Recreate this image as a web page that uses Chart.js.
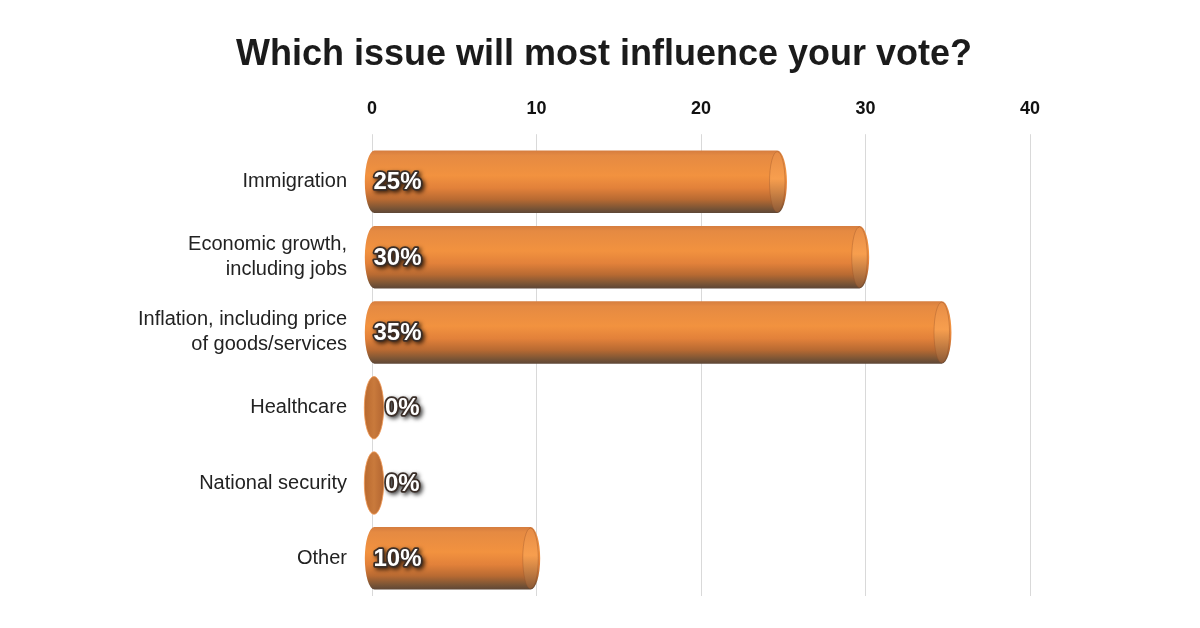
<!DOCTYPE html>
<html>
<head>
<meta charset="utf-8">
<script src="https://cdn.jsdelivr.net/npm/chart.js@4"></script>
<style>
  html, body { margin: 0; padding: 0; background: #fff; }
  #wrap { width: 1200px; height: 628px; }
</style>
</head>
<body>
<div id="wrap"><canvas id="voteChart" width="1200" height="628"></canvas></div>
<script>
const issues = [
    'Immigration',
    ['Economic growth,', 'including jobs'],
    ['Inflation, including price', 'of goods/services'],
    'Healthcare',
    'National security',
    'Other'
];
const shares = [25, 30, 35, 0, 0, 10];
const axisTicks = [0, 10, 20, 30, 40];

const SANS = '"Liberation Sans", Arial, sans-serif';

// draws the bars as orange cylinders, using the bar elements laid out by chart.js
const cylinderBars = {
    id: 'cylinderBars',
    afterDatasetsDraw(chart) {
        const ctx = chart.ctx;
        const meta = chart.getDatasetMeta(0);
        meta.data.forEach((bar, i) => {
            const p = bar.getProps(['x', 'y', 'base', 'height'], true);
            const h = p.height;
            const top = p.y - h / 2;
            const bottom = p.y + h / 2;
            const rx = h * 0.155;
            const cx1 = p.base + 2;
            ctx.save();
            if (shares[i] === 0) {
                const g = ctx.createLinearGradient(cx1 - rx, 0, cx1 + rx, 0);
                g.addColorStop(0, '#b8692f');
                g.addColorStop(0.5, '#c97a3c');
                g.addColorStop(1, '#b36530');
                ctx.fillStyle = g;
                ctx.beginPath();
                ctx.ellipse(cx1, p.y, rx, h / 2, 0, 0, Math.PI * 2);
                ctx.fill();
                ctx.strokeStyle = 'rgba(240,150,80,0.8)';
                ctx.lineWidth = 1;
                ctx.stroke();
                ctx.restore();
                return;
            }
            const cx2 = Math.max(p.x - 6, cx1);
            const g = ctx.createLinearGradient(0, top, 0, bottom);
            g.addColorStop(0, '#d57d3f');
            g.addColorStop(0.08, '#e58a42');
            g.addColorStop(0.4, '#f2923f');
            g.addColorStop(0.6, '#e2813a');
            g.addColorStop(0.78, '#b86a32');
            g.addColorStop(0.92, '#7c5535');
            g.addColorStop(1, '#5d4636');
            ctx.fillStyle = g;
            ctx.beginPath();
            ctx.moveTo(cx1, top);
            ctx.lineTo(cx2, top);
            ctx.ellipse(cx2, p.y, rx, h / 2, 0, -Math.PI / 2, Math.PI / 2);
            ctx.lineTo(cx1, bottom);
            ctx.ellipse(cx1, p.y, rx, h / 2, 0, Math.PI / 2, Math.PI * 1.5);
            ctx.closePath();
            ctx.fill();

            // end face of the cylinder
            const fg = ctx.createLinearGradient(0, top, 0, bottom);
            fg.addColorStop(0, 'rgba(230,140,70,0.9)');
            fg.addColorStop(0.45, 'rgba(248,160,80,0.9)');
            fg.addColorStop(1, 'rgba(140,90,55,0.9)');
            ctx.fillStyle = fg;
            ctx.beginPath();
            ctx.ellipse(cx2, p.y, rx * 0.8, h / 2 - 1, 0, 0, Math.PI * 2);
            ctx.fill();
            ctx.strokeStyle = 'rgba(150,80,40,0.35)';
            ctx.lineWidth = 1;
            ctx.stroke();
            ctx.restore();
        });

        // value labels
        ctx.save();
        ctx.font = 'bold 24px ' + SANS;
        ctx.textBaseline = 'middle';
        ctx.textAlign = 'left';
        ctx.lineJoin = 'round';
        meta.data.forEach((bar, i) => {
            const p = bar.getProps(['y', 'base'], true);
            const txt = shares[i] + '%';
            const tx = shares[i] === 0 ? p.base + 13 : p.base + 1;
            const ty = p.y + 1;
            ctx.shadowColor = 'rgba(0,0,0,0.75)';
            ctx.shadowBlur = 4;
            ctx.shadowOffsetX = 2;
            ctx.shadowOffsetY = 2;
            ctx.strokeStyle = '#3a2e28';
            ctx.lineWidth = 3.5;
            ctx.strokeText(txt, tx, ty);
            ctx.shadowColor = 'transparent';
            ctx.fillStyle = '#ffffff';
            ctx.fillText(txt, tx, ty);
        });
        ctx.restore();
    }
};

new Chart(document.getElementById('voteChart'), {
    type: 'bar',
    data: {
        labels: issues,
        datasets: [{
            label: 'Share of respondents',
            data: shares,
            backgroundColor: 'rgba(0,0,0,0)',
            borderWidth: 0,
            categoryPercentage: 1,
            barPercentage: 0.83
        }]
    },
    options: {
        indexAxis: 'y',
        responsive: false,
        animation: false,
        devicePixelRatio: 1,
        layout: { padding: { left: 8, right: 0, top: 0, bottom: 32 } },
        scales: {
            x: {
                position: 'top',
                min: axisTicks[0],
                max: axisTicks[axisTicks.length - 1],
                afterFit: scale => { scale.height = 68; },
                afterBuildTicks: scale => { scale.ticks = axisTicks.map(v => ({ value: v })); },
                border: { display: false },
                grid: { color: '#d9d9d9', lineWidth: 1, tickLength: 10 },
                ticks: {
                    padding: 14,
                    color: '#111',
                    font: { family: SANS, size: 18, weight: 'bold' }
                }
            },
            y: {
                afterFit: scale => {
                    scale.width = 364;
                    scale.paddingTop = 0;
                    scale.paddingBottom = 0;
                },
                border: { display: false },
                grid: { display: false, drawTicks: false },
                ticks: {
                    padding: 25,
                    color: '#222',
                    font: { family: SANS, size: 20, lineHeight: 1.25 }
                }
            },
            // empty right-hand axis, only reserves the space right of the plot
            yRight: {
                type: 'category',
                position: 'right',
                afterFit: scale => {
                    scale.width = 170;
                    scale.paddingTop = 0;
                    scale.paddingBottom = 0;
                },
                border: { display: false },
                grid: { display: false, drawTicks: false },
                ticks: { display: false }
            }
        },
        plugins: {
            legend: { display: false },
            tooltip: { enabled: false },
            title: {
                display: true,
                text: 'Which issue will most influence your vote?',
                color: '#1b1b1b',
                font: { family: SANS, size: 36, weight: 'bold', lineHeight: 1.2 },
                padding: { top: 33, bottom: 0 }
            }
        }
    },
    plugins: [cylinderBars]
});
</script>
</body>
</html>
